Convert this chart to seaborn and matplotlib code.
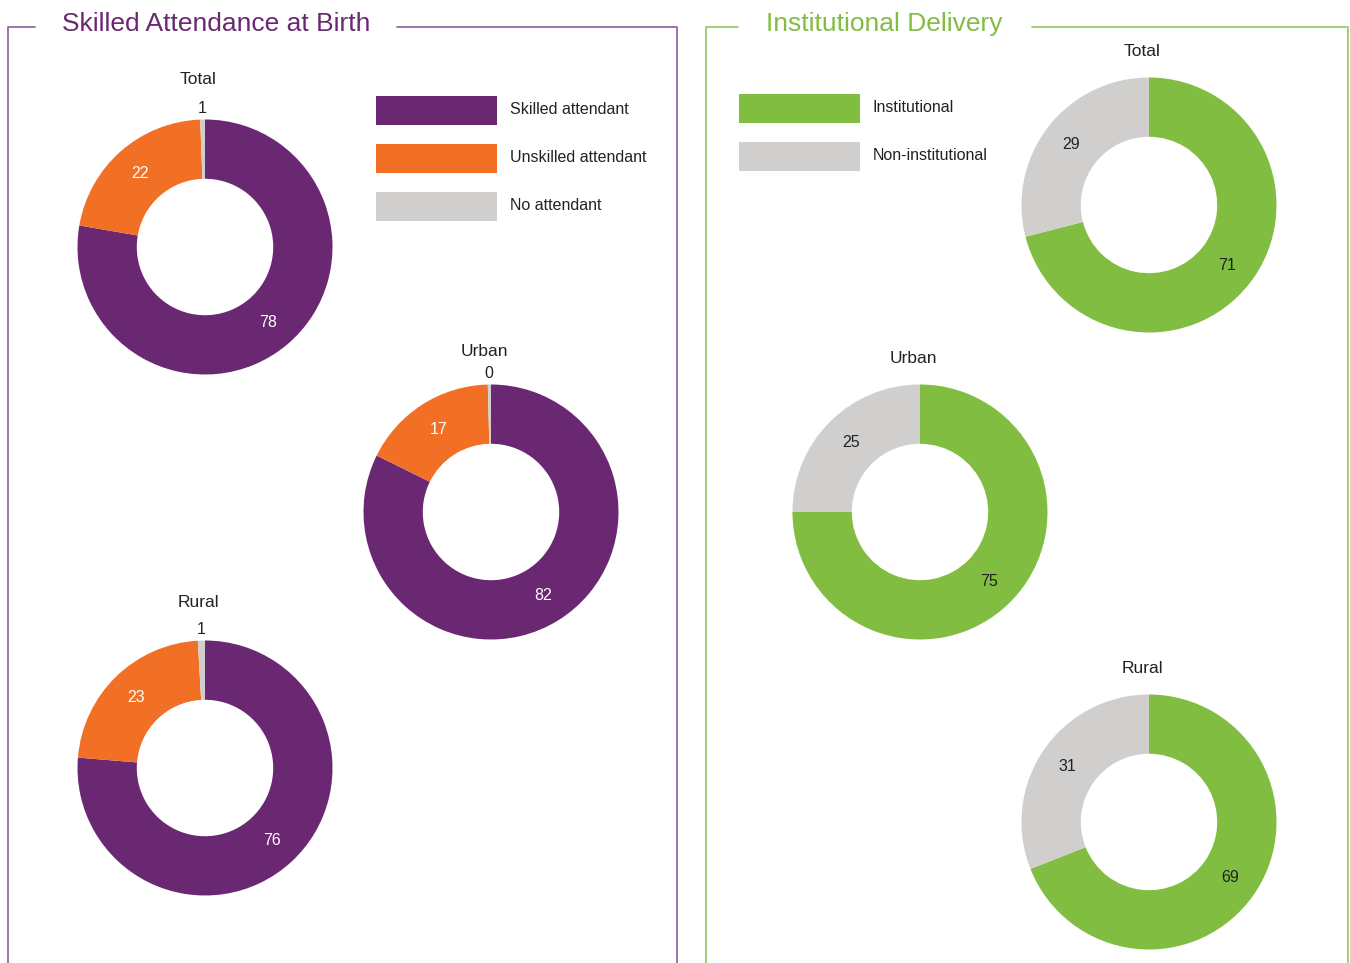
import numpy as np
import matplotlib
matplotlib.use("Agg")
import matplotlib.pyplot as plt
from matplotlib.patches import Rectangle
import seaborn as sns

sns.set_theme(style="white")
plt.rcParams['font.family'] = ['Liberation Sans', 'DejaVu Sans']

# ---------------- data ----------------
sab_categories = ["Skilled attendant", "Unskilled attendant", "No attendant"]
sab_total = [77.7, 21.7, 0.6]
sab_urban = [82.3, 17.3, 0.4]
sab_rural = [76.3, 22.8, 0.9]

inst_categories = ["Institutional", "Non-institutional"]
inst_total = [71, 29]
inst_urban = [75, 25]
inst_rural = [69, 31]

group_names = ["Total", "Urban", "Rural"]

sab_colors = ["#6A2872", "#F26F26", "#D0CFCD"]
sab_label_colors = ["white", "white", "#222222"]
inst_colors = ["#80BD41", "#D0CFCD"]
inst_label_colors = ["#222222", "#222222"]

W, H = 1350, 963
fig = plt.figure(figsize=(W / 100, H / 100), dpi=100)

overlay = fig.add_axes([0, 0, 1, 1], zorder=0)
overlay.set_xlim(0, W)
overlay.set_ylim(H, 0)
overlay.axis("off")

# frames
purple_frame = "#946AA0"
green_frame = "#99CC6A"
overlay.plot([35, 8, 8], [27, 27, H], color=purple_frame, lw=1.3)
overlay.plot([397, 677, 677], [27, 27, H], color=purple_frame, lw=1.3)
overlay.plot([738, 706, 706], [27, 27, H], color=green_frame, lw=1.3)
overlay.plot([1032, 1348, 1348], [27, 27, H], color=green_frame, lw=1.3)

overlay.text(62, 24, "Skilled Attendance at Birth", color="#6A2872", fontsize=19,
             ha="left", va="center")
overlay.text(766, 24, "Institutional Delivery", color="#80BD41", fontsize=19,
             ha="left", va="center")

# legends
def draw_legend(x, y0, step, cats, colors):
    for i, (c, col) in enumerate(zip(cats, colors)):
        y = y0 + i * step
        overlay.add_patch(Rectangle((x, y), 121, 29, color=col, lw=0))
        overlay.text(x + 134, y + 13, c, fontsize=11.5, color="#222222",
                     ha="left", va="center")

draw_legend(376, 96, 48, sab_categories, sab_colors)
draw_legend(739, 94, 48, inst_categories, inst_colors)

R = 127.5
def donut(cx, cy, values, colors, label_colors, title, title_off):
    ax = fig.add_axes([(cx - R) / W, 1 - (cy + R) / H, 2 * R / W, 2 * R / H], zorder=2)
    wedges, _ = ax.pie(values, colors=colors, startangle=90, counterclock=False,
                       radius=1, wedgeprops=dict(width=0.465, linewidth=0))
    ax.set_xlim(-1, 1)
    ax.set_ylim(-1, 1)
    ax.set_aspect("equal")
    ax.axis("off")
    for w, v, lc in zip(wedges, values, label_colors):
        mid = np.deg2rad((w.theta1 + w.theta2) / 2)
        if v < 3:
            r = 1.09
            lc = "#222222"
        else:
            r = 0.77
        ax.text(r * np.cos(mid), r * np.sin(mid), f"{round(v)}", color=lc,
                fontsize=11.5, ha="center", va="center", clip_on=False)
    ax.text(0.5 - 7 / (2 * R), 1 + title_off / (2 * R), title, transform=ax.transAxes,
            fontsize=12.5, color="#222222", ha="center", va="center", clip_on=False)

sab_data = [sab_total, sab_urban, sab_rural]
sab_pos = [(205, 247, 40), (491, 512, 33), (205, 768, 38)]
for name, vals, (cx, cy, off) in zip(group_names, sab_data, sab_pos):
    donut(cx, cy, vals, sab_colors, sab_label_colors, name, off)

inst_data = [inst_total, inst_urban, inst_rural]
inst_pos = [(1149, 205, 26), (920, 512, 26), (1149, 822, 26)]
for name, vals, (cx, cy, off) in zip(group_names, inst_data, inst_pos):
    donut(cx, cy, vals, inst_colors, inst_label_colors, name, off)

fig.savefig("out.png", dpi=100)
